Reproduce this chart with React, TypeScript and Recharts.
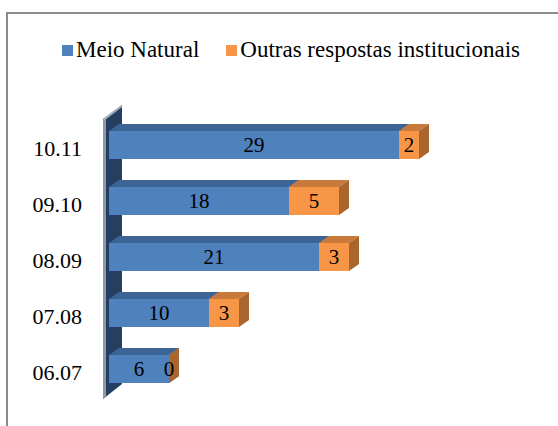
import { Bar, BarChart, LabelList, ReferenceArea, XAxis, YAxis } from 'recharts';

const categories = ['10.11', '09.10', '08.09', '07.08', '06.07'];
const meioNatural = [29, 18, 21, 10, 6];
const outrasRespostas = [2, 5, 3, 3, 0];
const seriesNames = ['Meio Natural', 'Outras respostas institucionais'];

const data = categories.map((period, i) => ({
  period,
  meio: meioNatural[i],
  outras: outrasRespostas[i],
}));

const FONT = "'Liberation Serif', 'DejaVu Serif', serif";
const DX = 10;
const DY = 7;

const COLORS = {
  meio: { front: '#4F81BD', top: '#3C6494', side: '#385D8A' },
  outras: { front: '#F79646', top: '#C97A3B', side: '#A9652C' },
};

function make3DBar(c: { front: string; top: string; side: string }) {
  return (props: any) => {
    const { x, y, width, height } = props;
    const w = Math.max(0, width || 0);
    return (
      <g>
        <rect x={x} y={y} width={w} height={height} fill={c.front} />
        <polygon
          points={`${x},${y} ${x + DX},${y - DY} ${x + w + DX},${y - DY} ${x + w},${y}`}
          fill={c.top}
        />
        <polygon
          points={`${x + w},${y} ${x + w + DX},${y - DY} ${x + w + DX},${y + height - DY} ${x + w},${y + height}`}
          fill={c.side}
        />
      </g>
    );
  };
}

// back wall of the 3D plot, drawn left of the value origin
function Wall(props: any) {
  const { x, y, height } = props;
  return (
    <g>
      <polygon
        points={`${x - 6},${y + 2} ${x + 13},${y - 12} ${x + 13},${y + height - 13} ${x - 6},${y + height + 2}`}
        fill="#243F60"
      />
      <polygon
        points={`${x - 6},${y + 2} ${x - 3},${y} ${x - 3},${y + height} ${x - 6},${y + height + 2}`}
        fill="#8E98A6"
      />
      <polygon
        points={`${x - 6},${y + 2} ${x + 13},${y - 12} ${x + 13},${y - 10} ${x - 4},${y + 3}`}
        fill="#A9B1BC"
      />
    </g>
  );
}

function CategoryTick(props: any) {
  const { x, y, payload } = props;
  return (
    <text x={x - 19} y={y} dy={11} textAnchor="end" style={{ fontFamily: FONT, fontSize: 22 }} fill="#000">
      {payload.value}
    </text>
  );
}

function ChartLegend() {
  const colors = [COLORS.meio.front, COLORS.outras.front];
  return (
    <div
      style={{
        position: 'absolute',
        left: 62,
        top: 38,
        display: 'flex',
        whiteSpace: 'nowrap',
        fontFamily: FONT,
        fontSize: 23,
        lineHeight: '24px',
        color: '#000',
      }}
    >
      {seriesNames.map((name, i) => (
        <div key={name} style={{ display: 'flex', alignItems: 'center', marginRight: 27 }}>
          <span style={{ width: 11, height: 11, background: colors[i], marginRight: 3, display: 'inline-block' }} />
          <span>{name}</span>
        </div>
      ))}
    </div>
  );
}

export default function App() {
  return (
    <div style={{ position: 'relative', width: 558, height: 426, background: '#fff', fontFamily: FONT }}>
      <style>{'body{margin:0}'}</style>
      <div
        style={{
          position: 'absolute',
          left: 6,
          top: 12,
          right: 0,
          bottom: 0,
          borderLeft: '2px solid #8C8C8C',
          borderTop: '2px solid #8C8C8C',
        }}
      />
      <ChartLegend />
      <BarChart
        width={558}
        height={426}
        data={data}
        layout="vertical"
        barSize={28}
        margin={{ top: 117, right: 49, bottom: 29, left: 9 }}
        style={{ position: 'absolute', left: 0, top: 0 }}
      >
        <XAxis type="number" domain={[0, 40]} hide />
        <YAxis
          type="category"
          dataKey="period"
          width={100}
          axisLine={false}
          tickLine={false}
          tick={<CategoryTick />}
        />
        <ReferenceArea x1={0} x2={40} shape={<Wall />} ifOverflow="visible" />
        <Bar dataKey="meio" name={seriesNames[0]} stackId="a" isAnimationActive={false} shape={make3DBar(COLORS.meio)}>
          <LabelList dataKey="meio" position="center" fill="#000" style={{ fontFamily: FONT, fontSize: 21 }} />
        </Bar>
        <Bar dataKey="outras" name={seriesNames[1]} stackId="a" isAnimationActive={false} shape={make3DBar(COLORS.outras)}>
          <LabelList dataKey="outras" position="center" fill="#000" style={{ fontFamily: FONT, fontSize: 21 }} />
        </Bar>
      </BarChart>
    </div>
  );
}
